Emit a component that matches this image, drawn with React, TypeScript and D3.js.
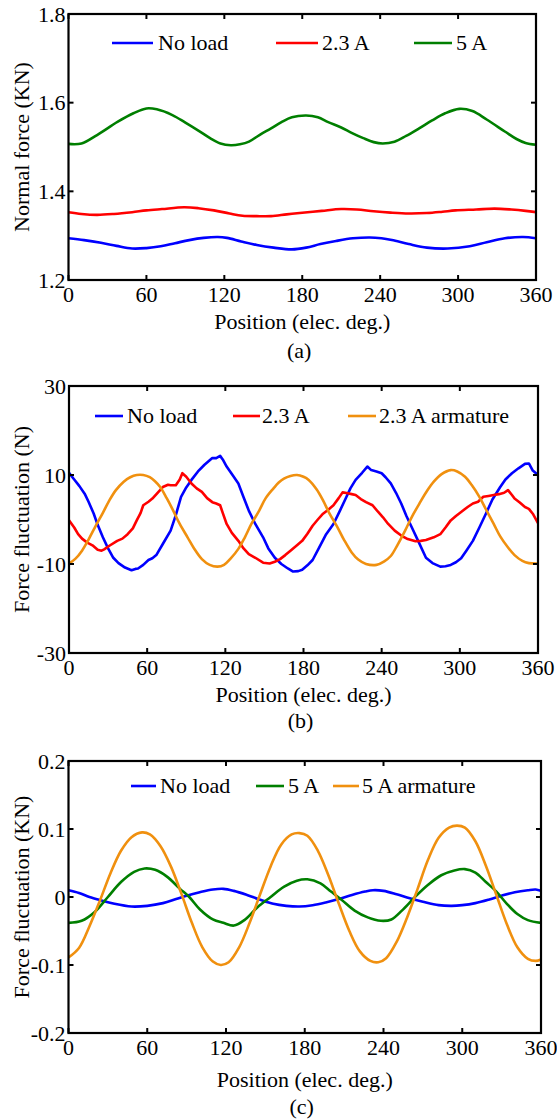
import React from 'react';
import * as d3 from 'd3';

type P = [number, number];

const xTicks = [0, 60, 120, 180, 240, 300, 360];
const aTicks = [1.2, 1.4, 1.6, 1.8];
const bTicks = [-30, -10, 10, 30];
const cTicks = [-0.2, -0.1, 0, 0.1, 0.2];
const aTickLabels = ['1.2', '1.4', '1.6', '1.8'];
const bTickLabels = ['-30', '-10', '10', '30'];
const cTickLabels = ['-0.2', '-0.1', '0', '0.1', '0.2'];

// Panel (a): normal force (KN)
const aNoLoad: P[] = [[0,1.294],[12,1.290],[25,1.284],[37,1.277],[49,1.271],[60,1.272],[71,1.276],[82,1.283],[93,1.290],[104,1.295],[115,1.297],[122,1.295],[133,1.287],[145,1.279],[158,1.273],[172,1.269],[183,1.273],[194,1.281],[206,1.288],[219,1.294],[232,1.296],[241,1.294],[249,1.290],[262,1.281],[276,1.273],[292,1.271],[309,1.276],[322,1.285],[336,1.294],[350,1.297],[360,1.294]];
const aLoad23: P[] = [[0,1.353],[10,1.349],[22,1.347],[35,1.349],[49,1.353],[60,1.357],[72,1.360],[89,1.364],[100,1.362],[112,1.357],[124,1.350],[134,1.345],[145,1.344],[156,1.344],[168,1.348],[178,1.351],[195,1.356],[210,1.360],[222,1.359],[235,1.355],[248,1.352],[262,1.350],[276,1.351],[288,1.354],[298,1.357],[314,1.359],[328,1.361],[341,1.359],[352,1.356],[360,1.353]];
const aLoad5: P[] = [[0,1.507],[10,1.508],[22,1.527],[38,1.557],[50,1.576],[60,1.587],[68,1.585],[80,1.572],[90,1.555],[100,1.537],[109,1.520],[117,1.508],[125,1.504],[132,1.506],[139,1.512],[147,1.527],[156,1.542],[164,1.556],[172,1.567],[183,1.571],[192,1.567],[200,1.556],[210,1.544],[218,1.532],[227,1.520],[235,1.511],[242,1.508],[251,1.512],[260,1.525],[270,1.542],[280,1.560],[290,1.576],[301,1.586],[311,1.581],[322,1.562],[336,1.535],[345,1.518],[352,1.509],[360,1.505]];

// Panel (b): force fluctuation (N)
const bNoLoad: P[] = [[0,10.5],[4,9.0],[8,7.5],[12,5.8],[15,4.0],[19,1.3],[22,-1.2],[26,-4.0],[30,-6.5],[34,-8.6],[38,-9.8],[43,-10.8],[48,-11.4],[51,-11.1],[53,-11.0],[57,-10.2],[61,-9.1],[64,-8.7],[67,-8.0],[72,-5.5],[78,-2.5],[82,1.0],[86,5.1],[90,7.2],[94,8.9],[99,10.8],[104,12.3],[108,13.3],[110,13.8],[113,13.8],[116,14.3],[118,13.5],[121,11.9],[125,10.2],[130,8.1],[134,5.0],[138,2.0],[143,-1.0],[149,-4.0],[153,-6.5],[158,-8.6],[163,-10.0],[168,-11.0],[172,-11.7],[176,-11.6],[179,-11.3],[183,-10.3],[187,-9.1],[192,-6.3],[197,-3.5],[203,-1.0],[208,2.0],[213,5.1],[216,7.0],[220,8.9],[225,10.5],[229,11.9],[232,11.1],[236,10.8],[240,10.4],[243,9.5],[247,8.1],[251,6.0],[255,3.6],[259,0.8],[263,-1.7],[268,-4.8],[274,-8.6],[279,-9.8],[285,-10.6],[289,-10.5],[293,-10.2],[297,-9.6],[301,-8.7],[305,-7.0],[310,-4.8],[315,-1.8],[320,1.3],[325,4.5],[331,7.3],[335,9.0],[340,10.4],[345,11.5],[350,12.5],[353,12.6],[356,11.0],[360,10.0]];
const bLoad23: P[] = [[0,-0.2],[4,-1.8],[7,-3.3],[10,-4.3],[14,-5.2],[18,-5.8],[22,-6.8],[25,-7.0],[27,-6.7],[31,-5.9],[37,-4.8],[41,-4.3],[45,-3.3],[49,-2.0],[52,-0.2],[55,1.5],[57,3.2],[61,4.0],[64,4.7],[68,6.0],[72,7.3],[76,7.8],[78,7.7],[82,7.7],[85,9.0],[87,10.4],[90,9.6],[94,8.1],[98,7.0],[102,6.2],[106,4.8],[110,3.9],[113,3.6],[116,3.2],[118,1.5],[121,-1.0],[125,-3.0],[130,-4.8],[134,-6.5],[138,-7.8],[143,-8.6],[149,-9.7],[154,-9.9],[158,-9.5],[162,-8.9],[166,-8.0],[170,-7.0],[175,-5.8],[179,-4.8],[183,-3.2],[187,-1.4],[191,0.0],[195,1.3],[199,2.2],[203,3.2],[207,4.8],[210,6.1],[214,5.9],[217,5.7],[220,5.5],[224,4.6],[228,3.9],[233,3.2],[237,1.8],[241,0.5],[245,-1.0],[250,-2.5],[255,-3.6],[260,-4.4],[266,-4.9],[270,-4.8],[274,-4.6],[280,-4.0],[285,-3.3],[289,-1.8],[293,-0.2],[297,0.8],[301,1.7],[306,2.8],[310,3.6],[314,4.0],[318,5.1],[322,5.3],[326,5.5],[330,5.7],[334,6.0],[337,6.6],[340,5.5],[342,4.7],[346,3.8],[350,2.8],[353,2.4],[356,1.3],[360,-0.8]];
const bArmature23: P[] = [[0,-9.9],[5,-8.8],[10,-7.0],[15,-4.5],[20,-1.7],[26,1.5],[31,4.3],[36,6.6],[42,8.5],[47,9.5],[52,10.0],[57,10.0],[62,9.5],[66,8.6],[70,7.3],[75,4.8],[80,2.0],[85,-1.0],[91,-4.0],[96,-6.5],[102,-8.9],[108,-10.2],[114,-10.6],[119,-10.2],[124,-8.8],[130,-6.6],[135,-4.0],[140,-1.0],[146,2.0],[151,4.8],[157,7.0],[161,8.3],[165,9.2],[170,9.8],[175,10.0],[180,9.6],[184,8.9],[190,6.8],[195,4.3],[200,1.3],[206,-1.7],[211,-4.5],[217,-7.4],[222,-9.0],[228,-10.0],[236,-10.2],[242,-9.4],[247,-8.2],[252,-5.8],[258,-2.5],[263,0.5],[269,3.6],[275,6.5],[280,8.5],[286,10.2],[293,11.1],[298,10.8],[304,9.6],[309,7.8],[315,5.1],[320,2.3],[326,-1.0],[331,-3.8],[337,-6.3],[342,-8.0],[348,-9.3],[353,-9.8],[360,-9.9]];

// Panel (c): force fluctuation (KN)
const cNoLoad: P[] = [[0,0.010],[8,0.006],[16,0.0],[25,-0.005],[35,-0.010],[48,-0.014],[60,-0.013],[72,-0.009],[82,-0.003],[90,0.002],[100,0.007],[110,0.011],[118,0.012],[126,0.009],[136,0.003],[146,-0.004],[156,-0.010],[166,-0.013],[176,-0.014],[186,-0.012],[196,-0.008],[206,-0.003],[216,0.003],[226,0.008],[232,0.010],[240,0.009],[250,0.004],[260,-0.002],[270,-0.007],[282,-0.012],[292,-0.013],[300,-0.012],[310,-0.009],[320,-0.004],[330,0.002],[340,0.007],[350,0.010],[356,0.011],[360,0.009]];
const cLoad5: P[] = [[0,-0.038],[10,-0.035],[20,-0.022],[30,0.0],[40,0.022],[50,0.037],[58,0.042],[66,0.040],[75,0.030],[85,0.012],[92,0.0],[100,-0.018],[110,-0.033],[118,-0.038],[126,-0.042],[134,-0.034],[144,-0.015],[154,0.0],[164,0.015],[174,0.024],[182,0.026],[192,0.020],[200,0.008],[208,-0.004],[218,-0.020],[228,-0.030],[238,-0.035],[246,-0.033],[254,-0.020],[264,0.0],[274,0.018],[284,0.032],[294,0.039],[302,0.041],[310,0.036],[318,0.022],[326,0.008],[334,-0.010],[342,-0.025],[350,-0.034],[360,-0.038]];
const cArmature5: P[] = [[0,-0.089],[8,-0.075],[16,-0.043],[24,-0.005],[32,0.035],[40,0.068],[48,0.088],[56,0.095],[62,0.092],[70,0.075],[78,0.045],[86,0.005],[94,-0.038],[102,-0.074],[110,-0.095],[116,-0.100],[122,-0.096],[130,-0.074],[138,-0.038],[146,0.004],[154,0.045],[162,0.077],[170,0.092],[176,0.094],[182,0.090],[190,0.068],[198,0.032],[206,-0.010],[214,-0.050],[222,-0.080],[230,-0.094],[236,-0.096],[242,-0.090],[250,-0.066],[258,-0.030],[266,0.012],[274,0.055],[282,0.087],[290,0.102],[296,0.105],[302,0.102],[310,0.082],[318,0.046],[326,0.003],[334,-0.040],[342,-0.074],[350,-0.091],[356,-0.094],[360,-0.092]];

const BLUE = '#0000ff';
const RED = '#ff0000';
const GREEN = '#007f00';
const ORANGE = '#f0900f';
const FONT = "'Liberation Serif', 'Times New Roman', serif";
const FS = 22;

interface Series { name: string; color: string; data: P[]; smooth: boolean; }
interface LegendPos { l0: number; l1: number; t: number; }
interface PanelLayout { x0: number; x1: number; y0: number; y1: number; legY: number; leg: LegendPos[]; xlabY: number; capY: number; }

const layouts: PanelLayout[] = [
  { x0: 68.5, x1: 536, y0: 14, y1: 280, legY: 43, leg: [{ l0: 112, l1: 153, t: 158 }, { l0: 276, l1: 318, t: 322 }, { l0: 414, l1: 452, t: 456 }], xlabY: 329, capY: 358 },
  { x0: 69, x1: 538, y0: 386, y1: 653, legY: 416, leg: [{ l0: 95, l1: 123, t: 127 }, { l0: 233, l1: 260, t: 262 }, { l0: 348, l1: 376, t: 379 }], xlabY: 702, capY: 728 },
  { x0: 68.5, x1: 541, y0: 761, y1: 1033, legY: 786, leg: [{ l0: 131, l1: 156, t: 160 }, { l0: 256, l1: 284, t: 288 }, { l0: 333, l1: 359, t: 362 }], xlabY: 1087, capY: 1114 },
];

const panels = [
  { domain: [1.2, 1.8], ticks: aTicks, labels: aTickLabels, ylabel: 'Normal force (KN)', caption: '(a)',
    series: [{ name: 'No load', color: BLUE, data: aNoLoad, smooth: true }, { name: '2.3 A', color: RED, data: aLoad23, smooth: true }, { name: '5 A', color: GREEN, data: aLoad5, smooth: true }] as Series[] },
  { domain: [-30, 30], ticks: bTicks, labels: bTickLabels, ylabel: 'Force fluctuation (N)', caption: '(b)',
    series: [{ name: 'No load', color: BLUE, data: bNoLoad, smooth: false }, { name: '2.3 A', color: RED, data: bLoad23, smooth: false }, { name: '2.3 A armature', color: ORANGE, data: bArmature23, smooth: true }] as Series[] },
  { domain: [-0.2, 0.2], ticks: cTicks, labels: cTickLabels, ylabel: 'Force fluctuation (KN)', caption: '(c)',
    series: [{ name: 'No load', color: BLUE, data: cNoLoad, smooth: true }, { name: '5 A', color: GREEN, data: cLoad5, smooth: true }, { name: '5 A armature', color: ORANGE, data: cArmature5, smooth: true }] as Series[] },
];

function Panel({ p, L, idx }: { p: typeof panels[number]; L: PanelLayout; idx: number }) {
  const x = d3.scaleLinear().domain([0, 360]).range([L.x0, L.x1]);
  const y = d3.scaleLinear().domain(p.domain).range([L.y1, L.y0]);
  const TL = 5;
  const cx = (L.x0 + L.x1) / 2;
  const cy = (L.y0 + L.y1) / 2;
  return (
    <g>
      <defs>
        <clipPath id={`clip${idx}`}><rect x={L.x0} y={L.y0} width={L.x1 - L.x0} height={L.y1 - L.y0} /></clipPath>
      </defs>
      <g clipPath={`url(#clip${idx})`}>
        {p.series.map((s) => {
          const line = d3.line<P>().x((d) => x(d[0])).y((d) => y(d[1])).curve(s.smooth ? d3.curveCatmullRom : d3.curveLinear);
          return <path key={s.name} d={line(s.data) || ''} fill="none" stroke={s.color} strokeWidth={2.6} strokeLinejoin="round" />;
        })}
      </g>
      {/* ticks */}
      {xTicks.map((t) => (
        <g key={'x' + t}>
          <line x1={x(t)} x2={x(t)} y1={L.y1} y2={L.y1 - TL} stroke="#000" strokeWidth={2} />
          <line x1={x(t)} x2={x(t)} y1={L.y0} y2={L.y0 + TL} stroke="#000" strokeWidth={2} />
          <text x={x(t)} y={L.y1 + 22} textAnchor="middle" fontFamily={FONT} fontSize={FS}>{t}</text>
        </g>
      ))}
      {p.ticks.map((t, i) => (
        <g key={'y' + t}>
          <line x1={L.x0} x2={L.x0 + TL} y1={y(t)} y2={y(t)} stroke="#000" strokeWidth={2} />
          <line x1={L.x1} x2={L.x1 - TL} y1={y(t)} y2={y(t)} stroke="#000" strokeWidth={2} />
          <text x={L.x0 - 3} y={y(t)} dy="0.35em" textAnchor="end" fontFamily={FONT} fontSize={FS}>{p.labels[i]}</text>
        </g>
      ))}
      <rect x={L.x0} y={L.y0} width={L.x1 - L.x0} height={L.y1 - L.y0} fill="none" stroke="#000" strokeWidth={2.2} />
      {/* legend */}
      {p.series.map((s, i) => (
        <g key={'leg' + s.name}>
          <line x1={L.leg[i].l0} x2={L.leg[i].l1} y1={L.legY} y2={L.legY} stroke={s.color} strokeWidth={2.6} />
          <text x={L.leg[i].t} y={L.legY} dy="0.34em" fontFamily={FONT} fontSize={FS}>{s.name}</text>
        </g>
      ))}
      <text x={cx} y={L.xlabY} textAnchor="middle" fontFamily={FONT} fontSize={FS}>Position (elec. deg.)</text>
      <text x={cx - 3} y={L.capY} textAnchor="middle" fontFamily={FONT} fontSize={FS}>{p.caption}</text>
      <text transform={`translate(29,${cy}) rotate(-90)`} textAnchor="middle" fontFamily={FONT} fontSize={FS}>{p.ylabel}</text>
    </g>
  );
}

export default function App() {
  return (
    <svg width={557} height={1120} style={{ position: 'absolute', left: 0, top: 0, background: '#fff' }}>
      <rect x={0} y={0} width={557} height={1120} fill="#fff" />
      {panels.map((p, i) => <Panel key={i} p={p} L={layouts[i]} idx={i} />)}
    </svg>
  );
}
